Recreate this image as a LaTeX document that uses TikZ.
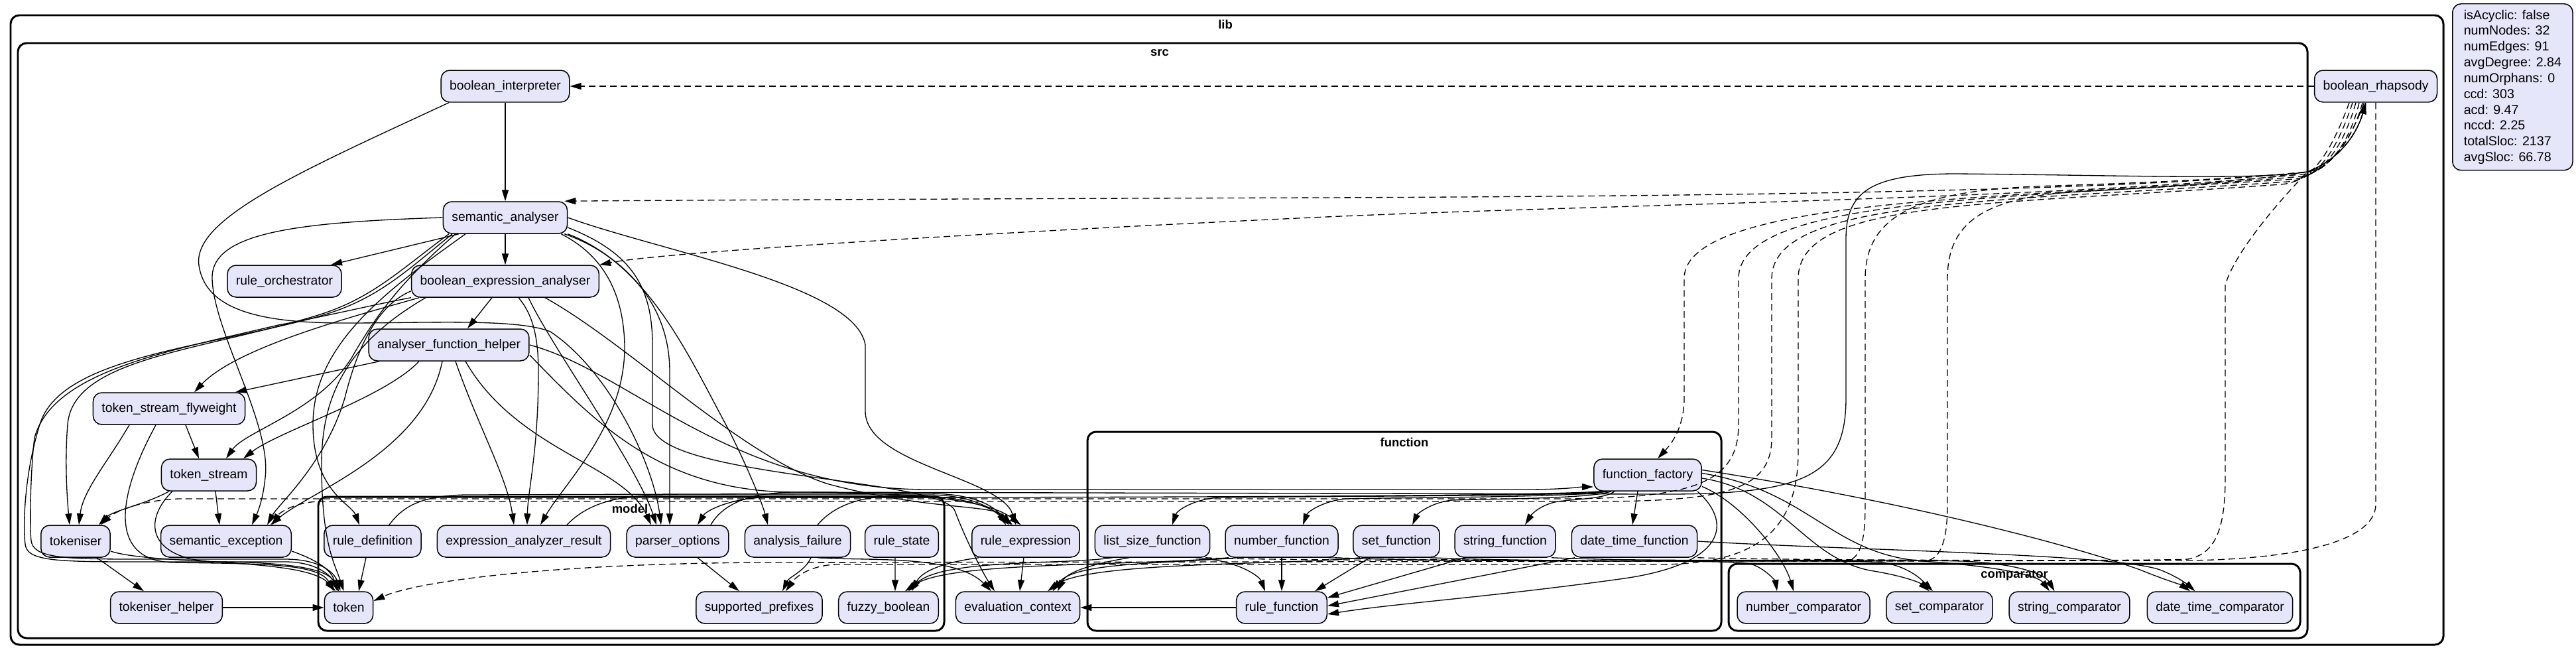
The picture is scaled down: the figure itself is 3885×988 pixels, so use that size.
\documentclass[tikz,border=0pt]{standalone}
\usepackage{fontspec}
\setmainfont{Liberation Sans}
\usetikzlibrary{arrows.meta,calc}
\definecolor{nodefill}{RGB}{230,230,250}
\newcommand{\nodefnt}{\fontsize{11}{13}\selectfont}
\newcommand{\clfnt}{\fontsize{10.5}{12}\selectfont\bfseries}
\newcommand{\legfnt}{\fontsize{11.2}{13.55}\selectfont}
\begin{document}
\begin{tikzpicture}[x=0.02cm,y=-0.02cm,
  nd/.style={draw, line width=0.85pt, fill=nodefill, rounded corners=0.26cm, minimum height=0.96cm, inner xsep=0.26cm, inner ysep=0pt, font=\nodefnt},
  cl/.style={draw, line width=1.7pt, rounded corners=0.26cm},
  cll/.style={font=\clfnt, inner sep=0pt},
  e/.style={line width=0.75pt, -{Triangle[length=0.34cm,width=0.2cm]}},
  de/.style={e, dash pattern=on 0.2cm off 0.12cm},
  leg/.style={draw, line width=0.85pt, fill=nodefill, rounded corners=0.26cm, align=left, minimum height=5.02cm, inner xsep=0.34cm, inner ysep=0.1cm, font=\legfnt}]
\useasboundingbox (0,0) rectangle (3885,988);
% clusters
\draw[cl] (16,23) rectangle (3685,972);
\draw[cl] (27,65) rectangle (3480,962);
\draw[cl] (480,749) rectangle (1424,951);
\draw[cl] (1640,651) rectangle (2596,951);
\draw[cl] (2607,850) rectangle (3469,951);
\node[cll] (liblbl) at (1848,37) {lib};
\node[cll] (srclbl) at (1749,80) {src};
\node[cll] (modellbl) at (950,767) {model};
\node[cll] (funclbl) at (2118,667) {function};
\node[cll] (complbl) at (3038,867) {comparator};
% nodes
\node[nd] (bi) at (762,130) {boolean\_interpreter};
\node[nd] (sa) at (762,328) {semantic\_analyser};
\node[nd] (ro) at (429,424) {rule\_orchestrator};
\node[nd] (bea) at (762,424) {boolean\_expression\_analyser};
\node[nd] (afh) at (677,520) {analyser\_function\_helper};
\node[nd] (tsf) at (255,616) {token\_stream\_flyweight};
\node[nd] (ts) at (315,716) {token\_stream};
\node[nd] (tk) at (114,816) {tokeniser};
\node[nd] (se) at (341,816) {semantic\_exception};
\node[nd] (rd) at (562,816) {rule\_definition};
\node[nd] (ear) at (790,816) {expression\_analyzer\_result};
\node[nd] (po) at (1022,816) {parser\_options};
\node[nd] (af) at (1203,816) {analysis\_failure};
\node[nd] (rs) at (1360,816) {rule\_state};
\node[nd] (re) at (1547,816) {rule\_expression};
\node[nd] (lsf) at (1738,816) {list\_size\_function};
\node[nd] (nf) at (1933,816) {number\_function};
\node[nd] (sf) at (2106,816) {set\_function};
\node[nd] (stf) at (2270,816) {string\_function};
\node[nd] (dtf) at (2465,816) {date\_time\_function};
\node[nd] (ff) at (2485,716) {function\_factory};
\node[nd] (th) at (251,916) {tokeniser\_helper};
\node[nd] (tok) at (526,916) {token};
\node[nd] (sp) at (1145,916) {supported\_prefixes};
\node[nd] (fb) at (1340,916) {fuzzy\_boolean};
\node[nd] (ec) at (1535,916) {evaluation\_context};
\node[nd] (rf) at (1933,916) {rule\_function};
\node[nd] (nc) at (2720,916) {number\_comparator};
\node[nd] (sc) at (2925,916) {set\_comparator};
\node[nd] (strc) at (3121,916) {string\_comparator};
\node[nd] (dtc) at (3348,916) {date\_time\_comparator};
\node[nd] (br) at (3583,130) {boolean\_rhapsody};
\node[leg, anchor=north west] (legend) at (3698,5) {isAcyclic: false\\numNodes: 32\\numEdges: 91\\avgDegree: 2.84\\numOrphans: 0\\ccd: 303\\acd: 9.47\\nccd: 2.25\\totalSloc: 2137\\avgSloc: 66.78};
% solid edges
\draw[e] (bi) -- (sa);
\draw[e] ([xshift=-1.7cm]bi.south) .. controls (450,260) and (290,330) .. (300,400) .. controls (310,470) and (400,487) .. (520,487) .. controls (650,487) and (780,480) .. (830,500) .. controls (920,560) and (985,700) .. ([xshift=-0.5cm]po.north);
\draw[e] ([xshift=-1.4cm]sa.south) -- ([xshift=1.4cm]ro.north);
\draw[e] (sa) -- (bea);
\draw[e] (sa.west) .. controls (450,335) and (318,350) .. (320,420) .. controls (322,500) and (410,640) .. (400,720) .. controls (396,760) and (385,780) .. ([xshift=0.78cm]se.north);
\draw[e] ([xshift=-2.6cm]bea.south) .. controls (560,470) and (360,520) .. ([xshift=0.76cm]tsf.north);
\draw[e] ([xshift=-1.5cm]sa.south) .. controls (610,420) and (570,470) .. (530,540) .. controls (480,620) and (370,650) .. ([xshift=0.52cm]ts.north);
\draw[e] ([xshift=-1.7cm]sa.south) .. controls (600,410) and (560,450) .. (480,475) .. controls (300,530) and (110,540) .. (102,640) .. controls (97,700) and (102,760) .. ([xshift=-0.18cm]tk.north);
\draw[e] ([xshift=-1.6cm]sa.south) .. controls (605,415) and (565,455) .. (470,480) .. controls (300,525) and (90,540) .. (60,640) .. controls (35,720) and (35,800) .. (38,820) .. controls (40,845) and (80,847) .. (200,847) -- (430,847) .. controls (480,847) and (500,870) .. ([xshift=-0.3cm]tok.north);
\draw[e] (bea.south west) .. controls (560,460) and (500,475) .. (420,490) .. controls (250,530) and (80,560) .. (52,660) .. controls (45,720) and (45,800) .. (47,815) .. controls (50,840) and (90,843) .. (200,843) -- (430,843) .. controls (485,843) and (505,865) .. ([xshift=-0.25cm]tok.north);
\draw[e] ([xshift=-1.2cm]sa.south) .. controls (580,440) and (472,520) .. (472,640) .. controls (472,740) and (530,760) .. ([xshift=-0.4cm]rd.north);
\draw[e] ([xshift=-2.4cm]bea.south) .. controls (520,520) and (485,600) .. (485,700) .. controls (485,820) and (505,850) .. ([xshift=-0.15cm]tok.north);
\draw[e] ([xshift=-0.2cm]sa.south east) .. controls (900,380) and (940,430) .. (942,520) .. controls (944,640) and (850,730) .. ([xshift=0.5cm]ear.north);
\draw[e] ([xshift=-0.1cm]sa.south east) .. controls (930,380) and (1010,450) .. (1010,560) -- (1010,700) .. controls (1010,760) and (1010,775) .. ([xshift=-0.24cm]po.north);
\draw[e] (sa.south east) .. controls (980,400) and (1040,540) .. (1100,650) .. controls (1130,710) and (1150,760) .. ([xshift=-0.9cm]af.north);
\draw[e] (sa.east) .. controls (1000,380) and (1290,430) .. (1305,520) -- (1305,620) .. controls (1305,700) and (1510,720) .. ([xshift=-0.3cm]re.north);
\draw[e] ([yshift=-0.3cm]sa.east) .. controls (950,380) and (984,430) .. (984,520) -- (984,640) .. controls (984,720) and (1420,720) .. (1440,770) .. controls (1455,810) and (1480,860) .. ([xshift=-0.7cm]ec.north);
\draw[e] ([xshift=-0.4cm]bea.south) -- ([xshift=0.56cm]afh.north);
\draw[e] ([yshift=0.2cm]bea.south west) .. controls (570,460) and (540,520) .. (520,600) .. controls (490,700) and (420,760) .. ([xshift=1.24cm]se.north);
\draw[e] ([xshift=0.4cm]bea.south) .. controls (800,470) and (812,500) .. (812,560) .. controls (812,680) and (796,740) .. ([xshift=0.1cm]ear.north);
\draw[e] ([xshift=0.7cm]bea.south) .. controls (830,520) and (960,700) .. ([xshift=-0.64cm]po.north);
\draw[e] ([xshift=1.2cm]bea.south) .. controls (950,520) and (1120,690) .. (1250,730) .. controls (1400,770) and (1500,760) .. ([xshift=-0.45cm]re.north);
\draw[e] ([xshift=-2.1cm]afh.south) -- ([xshift=2cm]tsf.north);
\draw[e] ([xshift=-0.9cm]afh.south) .. controls (580,600) and (420,650) .. ([xshift=1.04cm]ts.north);
\draw[e] ([xshift=-0.2cm]afh.south) .. controls (640,680) and (470,740) .. ([xshift=1.34cm]se.north);
\draw[e] ([xshift=0.2cm]afh.south) .. controls (720,640) and (765,720) .. ([xshift=-0.3cm]ear.north);
\draw[e] ([xshift=0.5cm]afh.south) .. controls (780,680) and (940,700) .. ([xshift=-0.8cm]po.north);
\draw[e] ([yshift=-0.3cm]afh.east) .. controls (900,640) and (1000,742) .. (1200,742) .. controls (1450,742) and (1505,765) .. ([xshift=-0.15cm]re.north);
\draw[e] (afh.east) .. controls (950,560) and (1100,738) .. (1400,738) -- (2300,738) .. controls (2360,738) and (2385,734) .. ([yshift=-0.36cm]ff.west);
\draw[e] ([xshift=-1.3cm]ff.south) .. controls (2380,748) and (2000,748) .. (1840,750) .. controls (1800,752) and (1775,770) .. ([xshift=0.6cm]lsf.north);
\draw[e] ([xshift=-1.2cm]ff.south) .. controls (2380,750) and (2100,750) .. (2030,752) .. controls (1995,755) and (1972,772) .. ([xshift=0.64cm]nf.north);
\draw[e] ([xshift=-1.1cm]ff.south) .. controls (2400,752) and (2250,752) .. (2190,754) .. controls (2160,757) and (2138,774) .. ([xshift=0.48cm]sf.north);
\draw[e] ([xshift=-1cm]ff.south) .. controls (2420,752) and (2380,752) .. (2350,756) .. controls (2325,760) and (2310,775) .. ([xshift=0.6cm]stf.north);
\draw[e] ([xshift=-0.3cm]ff.south) -- ([xshift=-0.06cm]dtf.north);
\draw[e] ([xshift=1.5cm]ff.south) .. controls (2615,790) and (2600,850) .. (2450,872) .. controls (2250,900) and (2100,910) .. ([yshift=-0.2cm]rf.east);
\draw[e] ([yshift=-0.35cm]ff.east) .. controls (2630,760) and (2690,840) .. ([xshift=-0.3cm]nc.north);
\draw[e] ([yshift=-0.1cm]ff.east) .. controls (2690,740) and (2720,840) .. (2820,860) .. controls (2870,868) and (2895,878) .. ([xshift=-0.3cm]sc.north);
\draw[e] ([yshift=0.05cm]ff.east) .. controls (2730,740) and (2760,835) .. (2900,846) .. controls (3030,855) and (3075,870) .. ([xshift=-0.6cm]strc.north);
\draw[e] ([yshift=0.15cm]ff.east) .. controls (2900,760) and (3150,830) .. (3230,860) .. controls (3262,873) and (3290,882) .. ([xshift=-0.9cm]dtc.north);
\draw[e] (dtf.east) .. controls (2800,830) and (3200,835) .. (3260,860) .. controls (3285,870) and (3300,882) .. ([xshift=-0.75cm]dtc.north);
\draw[e] ([xshift=1.4cm]stf.south) .. controls (2500,848) and (2800,842) .. (2960,846) .. controls (3050,850) and (3085,868) .. ([xshift=-0.45cm]strc.north);
\draw[e] ([xshift=1cm]sf.south) .. controls (2400,850) and (2750,842) .. (2840,848) .. controls (2880,855) and (2898,874) .. ([xshift=-0.2cm]sc.north);
\draw[e] ([xshift=1.4cm]nf.south) .. controls (2300,850) and (2590,842) .. (2640,850) .. controls (2665,858) and (2678,878) .. ([xshift=-0.8cm]nc.north);
\draw[e] ([xshift=1.3cm]lsf.south) .. controls (1870,845) and (1900,870) .. ([xshift=-0.5cm]rf.north);
\draw[e] (nf) -- (rf);
\draw[e] ([xshift=-0.8cm]sf.south) -- ([xshift=1cm]rf.north);
\draw[e] ([xshift=-1.2cm]stf.south) -- ([yshift=0.3cm]rf.east);
\draw[e] ([xshift=-1.8cm]dtf.south) -- ([yshift=0.05cm]rf.east);
\draw[e] (rf) -- (ec);
\draw[e] ([xshift=-0.7cm]lsf.south) .. controls (1660,848) and (1610,860) .. ([xshift=1.2cm]ec.north);
\draw[e] ([xshift=-1.3cm]nf.south) .. controls (1750,850) and (1620,848) .. ([xshift=1.05cm]ec.north);
\draw[e] ([xshift=-1.1cm]sf.south) .. controls (1950,852) and (1640,846) .. ([xshift=0.9cm]ec.north);
\draw[e] (re) -- (ec);
\draw[e] ([xshift=-1.4cm]re.south) .. controls (1420,848) and (1390,862) .. ([xshift=0.7cm]fb.north);
\draw[e] ([xshift=-1.2cm]lsf.south) .. controls (1600,852) and (1420,842) .. ([xshift=0.6cm]fb.north);
\draw[e] ([xshift=-1.6cm]nf.south) .. controls (1700,854) and (1430,846) .. ([xshift=0.5cm]fb.north);
\draw[e] ([xshift=-0.2cm]rs.south) -- ([xshift=0.2cm]fb.north);
\draw[e] ([xshift=0.6cm]af.south) .. controls (1300,846) and (1440,835) .. ([xshift=-0.8cm]ec.north);
\draw[e] ([xshift=0.6cm]po.south) -- ([xshift=-0.6cm]sp.north);
\draw[e] ([xshift=0.4cm]af.south) .. controls (1215,860) and (1190,870) .. ([xshift=0.7cm]sp.north);
\draw[e] ([xshift=-0.2cm]rd.south) -- ([xshift=0.3cm]tok.north);
\draw[e] ([xshift=0.64cm]tk.south) -- ([xshift=-0.68cm]th.north);
\draw[e] ([yshift=-0.3cm]tk.east) .. controls (230,852) and (460,840) .. ([xshift=-0.4cm]tok.north);
\draw[e] (th) -- (tok);
\draw[e] ([yshift=-0.3cm]se.east) .. controls (480,845) and (500,860) .. ([xshift=-0.35cm]tok.north);
\draw[e] ([xshift=-1.2cm]tsf.south) .. controls (160,700) and (125,740) .. ([xshift=0.1cm]tk.north);
\draw[e] ([xshift=0.5cm]tsf.south) -- ([xshift=-0.3cm]ts.north);
\draw[e] ([xshift=-0.4cm]tsf.south) .. controls (170,760) and (170,845) .. (260,848) .. controls (380,850) and (480,848) .. ([xshift=-0.45cm]tok.north);
\draw[e] ([xshift=-1.2cm]ts.south) .. controls (220,760) and (170,770) .. ([xshift=0.7cm]tk.north);
\draw[e] ([xshift=0.2cm]ts.south) -- ([xshift=-0.2cm]se.north);
\draw[e] ([xshift=-1.1cm]ts.south) .. controls (210,790) and (230,846) .. (330,847) .. controls (450,848) and (495,860) .. ([xshift=-0.3cm]tok.north);
\draw[e] ([xshift=0.5cm]rd.north) .. controls (610,760) and (640,748) .. (700,746) -- (1400,744) .. controls (1480,744) and (1505,770) .. ([xshift=-0.6cm]re.north);
\draw[e] ([xshift=1.3cm]ear.north) .. controls (890,755) and (940,746) .. (1010,746) -- (1400,746) .. controls (1470,746) and (1500,770) .. ([xshift=-0.5cm]re.north);
\draw[e] ([xshift=0.6cm]af.north) .. controls (1260,760) and (1300,748) .. (1360,747) .. controls (1460,746) and (1500,768) .. ([xshift=-0.4cm]re.north);
\draw[e] ([xshift=-1.4cm]ff.south) .. controls (2300,750) and (1400,750) .. (1150,750) .. controls (1100,752) and (1065,770) .. ([xshift=0.6cm]po.north);
\draw[e] ([xshift=1cm]po.north) .. controls (1090,760) and (1130,742) .. (1200,742) -- (2500,745) .. controls (2720,746) and (2784,720) .. (2784,600) -- (2784,360) .. controls (2784,290) and (2820,262) .. (2950,262) .. controls (3200,264) and (3400,272) .. (3480,259) .. controls (3530,240) and (3555,200) .. ([xshift=-0.3cm]br.south);
% dashed edges
\draw[de] (br) -- (bi);
\draw[de] ([xshift=-0.4cm]br.south) .. controls (3545,220) and (3510,255) .. (3480,259) .. controls (3200,290) and (2500,296) .. (2000,298) .. controls (1400,300) and (1000,302) .. ([xshift=-0.1cm]sa.north east);
\draw[de] ([xshift=-0.35cm]br.south) .. controls (3540,225) and (3505,258) .. (3480,262) .. controls (3100,300) and (2400,309) .. (2000,327) .. controls (1500,350) and (1000,380) .. (bea.north east);
\draw[de] ([xshift=-0.5cm]br.south) .. controls (3540,230) and (3500,262) .. (3470,266) .. controls (3100,300) and (2540,290) .. (2540,420) -- (2540,600) .. controls (2540,650) and (2515,675) .. ([xshift=0.3cm]ff.north);
\draw[de] (br.south) -- (3583,760) .. controls (3583,820) and (3450,843) .. (3300,845) -- (1150,848) .. controls (800,850) and (620,880) .. ([yshift=0.2cm]tok.east);
\draw[de] ([xshift=-0.6cm]br.south) .. controls (3530,235) and (3495,266) .. (3460,270) .. controls (3000,300) and (2622,300) .. (2622,420) -- (2622,640) .. controls (2622,730) and (2550,752) .. (2350,752) -- (270,752) .. controls (215,754) and (175,770) .. ([xshift=0.75cm]tk.north);
\draw[de] ([xshift=-0.7cm]br.south) .. controls (3520,240) and (3490,270) .. (3450,274) .. controls (3000,305) and (2672,300) .. (2672,420) -- (2672,660) .. controls (2672,740) and (2600,756) .. (2400,756) -- (480,756) .. controls (440,758) and (420,775) .. ([xshift=1.4cm]se.north);
\draw[de] ([xshift=-0.8cm]br.south) .. controls (3510,245) and (3480,275) .. (3440,278) .. controls (3000,310) and (2712,300) .. (2712,420) -- (2712,680) .. controls (2712,800) and (2650,851) .. (2500,851) -- (1260,851) .. controls (1220,853) and (1200,870) .. ([xshift=0.8cm]sp.north);
\draw[de] ([xshift=1.6cm]lsf.south) .. controls (1900,846) and (2700,846) .. (2780,846) .. controls (2805,846) and (2813,820) .. (2813,760) -- (2813,420) .. controls (2813,320) and (2900,285) .. (3100,280) .. controls (3350,272) and (3450,262) .. (3480,259) .. controls (3530,240) and (3555,200) .. ([xshift=-0.3cm]br.south);
\draw[de] ([xshift=1.6cm]nf.south) .. controls (2100,846) and (2850,846) .. (2900,846) .. controls (2925,846) and (2937,820) .. (2937,760) -- (2937,420) .. controls (2937,330) and (3000,295) .. (3150,288) .. controls (3350,278) and (3450,264) .. (3480,259) .. controls (3530,240) and (3555,200) .. ([xshift=-0.3cm]br.south);
\draw[de] (dtf.south east) .. controls (2700,845) and (3250,846) .. (3300,843) .. controls (3340,835) and (3356,800) .. (3356,720) -- (3356,430) .. controls (3370,380) and (3440,300) .. (3480,259) .. controls (3530,240) and (3555,200) .. ([xshift=-0.3cm]br.south);
\end{tikzpicture}
\end{document}
